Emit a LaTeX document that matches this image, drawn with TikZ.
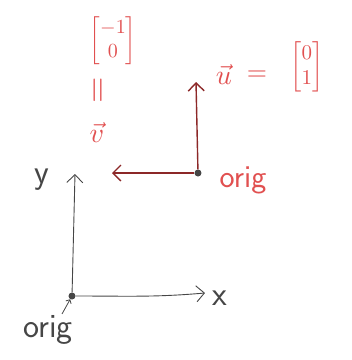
\documentclass[tikz,border=0pt]{standalone}
\usepackage{amsmath}
\usepackage{graphicx}
\usetikzlibrary{arrows.meta}
\definecolor{pen}{RGB}{70,70,70}
\definecolor{redpen}{RGB}{225,80,80}
\definecolor{darkred}{RGB}{140,40,40}
\newcommand{\enlargemath}[2]{\scalebox{#1}{#2}}
\begin{document}
\begin{tikzpicture}[x=1pt,y=-1pt,
  dot/.style={circle,fill=pen,inner sep=0pt,minimum size=7pt},
  axis/.style={draw=pen,line width=0.9pt,-{Straight Barb[length=8pt,width=16pt]}},
  vecarrow/.style={draw=darkred,line width=1.4pt,-{Straight Barb[length=8pt,width=16pt]}},
  lbl/.style={font=\sffamily\fontsize{34}{38}\selectfont,text=pen},
  rlbl/.style={font=\sffamily\fontsize{32}{36}\selectfont,text=redpen},
  rmath/.style={text=redpen,inner sep=1pt}]
\useasboundingbox (0,0) rectangle (352,360);
% axes
\node[dot] (o1) at (72,296) {};
\coordinate (ytip) at (75,174);
\coordinate (xtip) at (205,293);
\draw[axis] (o1) -- (ytip);
\draw[axis] (o1) to[out=0,in=185] (xtip);
\node[lbl] (ylab) at (42,180) {y};
\node[lbl] (xlab) at (220,298) {x};
\node[lbl] (orig1) at (48,330) {orig};
\draw[pen,line width=0.8pt,-{Straight Barb[length=3pt,width=6pt]}] (orig1.north) ++(14,2) -- (o1);
% vectors
\node[dot] (o2) at (198,173) {};
\coordinate (utip) at (196,82);
\coordinate (vtip) at (112,173);
\draw[vecarrow] (o2) -- (utip);
\draw[vecarrow] (o2) -- (vtip);
\node[rlbl] (orig2) at (243,180) {orig};
\node[rmath] (ulab) at (224,74) {\enlargemath{2.8}{$\vec{u}$}};
\node[rmath] (ueq) at (257,76) {\enlargemath{2.6}{$=$}};
\node[rmath] (umat) at (307,67) {\enlargemath{2.1}{$\begin{bmatrix}0\\1\end{bmatrix}$}};
\node[rmath] (vlab) at (97,132) {\enlargemath{2.8}{$\vec{v}$}};
\node[rmath,rotate=90] (veq) at (100,90) {\enlargemath{3.4}{$=$}};
\node[rmath] (vmat) at (113,41) {\enlargemath{2.0}{$\begin{bmatrix}-1\\0\end{bmatrix}$}};
\end{tikzpicture}
\end{document}
